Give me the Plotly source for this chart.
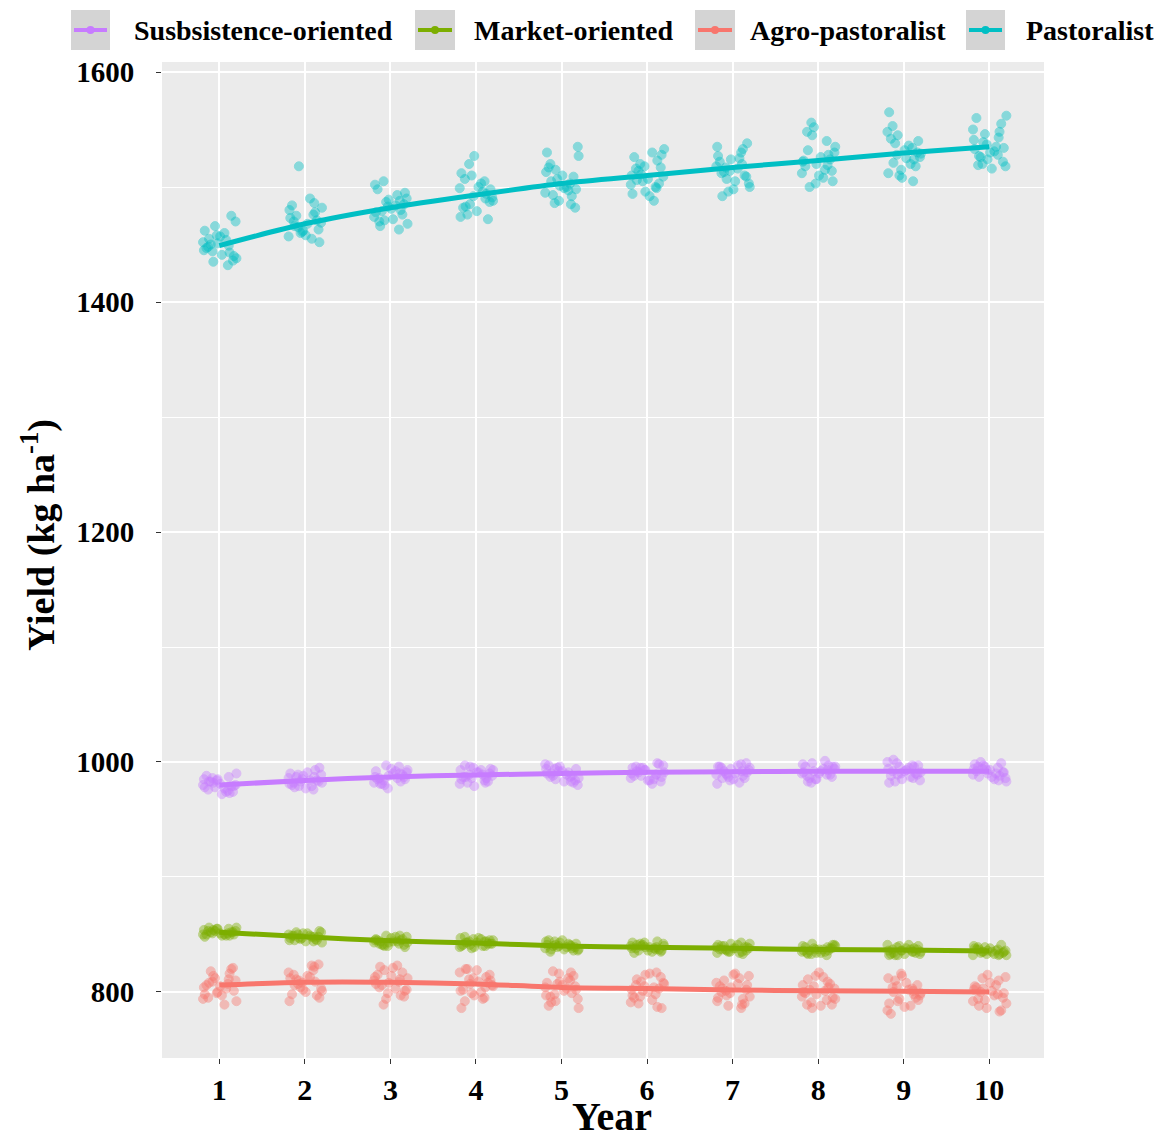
import plotly.graph_objects as go

# Years and group names
years = [1, 2, 3, 4, 5, 6, 7, 8, 9, 10]
groups = ["Agro-pastoralist", "Market-oriented", "Pastoralist", "Susbsistence-oriented"]
legend_order = ["Susbsistence-oriented", "Market-oriented", "Agro-pastoralist", "Pastoralist"]
colors = {"Agro-pastoralist": "#F8766D", "Market-oriented": "#7CAE00",
          "Pastoralist": "#00BFC4", "Susbsistence-oriented": "#C77CFF"}

# Smoothed trend per group
trend_subsistence = [980, 984, 987, 988.7, 990, 991, 991.5, 992, 992, 992]
trend_market = [852, 848, 844.5, 842.6, 840, 839, 838, 837, 836.5, 835.6]
trend_agro = [806, 808.5, 808.5, 807, 804, 803, 801.7, 801, 800.6, 800]
trend_pastoral = [1449, 1468, 1482, 1493, 1503, 1510, 1517, 1523, 1529.5, 1535]

# Horizontal jitter of the points around each year
jitter = [-0.15, 0.08, -0.02, 0.17, -0.19, 0.03, -0.08, 0.12, -0.12, 0.19, -0.05, 0.14,
          0.01, -0.17, 0.10, -0.10, 0.06, -0.13, 0.16, -0.03, 0.20, -0.07, 0.11, -0.18]

# Simulated yields per year (one list per year)
pts_subsistence = [
    [980, 975, 984, 988, 972, 978, 983, 990, 974, 986, 979, 977, 982, 985, 973, 981, 976, 987, 979, 983, 978, 974, 985, 980],
    [984, 979, 988, 993, 977, 982, 987, 995, 978, 990, 983, 981, 986, 989, 976, 985, 980, 991, 983, 987, 982, 979, 989, 984],
    [987, 982, 991, 996, 977, 985, 990, 997, 981, 993, 986, 984, 989, 992, 980, 988, 983, 994, 986, 990, 985, 981, 992, 987],
    [989, 983, 993, 996, 979, 986, 991, 997, 982, 994, 987, 985, 990, 993, 981, 988, 984, 995, 987, 991, 986, 982, 993, 989],
    [990, 984, 994, 998, 980, 987, 992, 997, 983, 995, 988, 986, 991, 994, 982, 989, 985, 996, 988, 992, 987, 983, 994, 990],
    [991, 985, 995, 998, 981, 988, 993, 999, 984, 996, 989, 987, 992, 995, 983, 990, 986, 997, 989, 993, 988, 984, 995, 991],
    [991, 986, 996, 999, 981, 989, 993, 998, 984, 996, 990, 987, 992, 995, 982, 990, 986, 997, 989, 994, 988, 985, 995, 992],
    [992, 986, 996, 1001, 982, 989, 994, 999, 985, 997, 990, 988, 993, 996, 983, 991, 987, 998, 990, 994, 989, 985, 996, 992],
    [992, 986, 997, 1002, 982, 989, 994, 1000, 984, 997, 990, 988, 993, 996, 983, 991, 987, 999, 990, 995, 989, 985, 996, 992],
    [992, 987, 996, 1000, 983, 990, 994, 999, 985, 997, 990, 988, 993, 996, 984, 991, 987, 998, 991, 994, 989, 986, 995, 993],
]
pts_market = [
    [852, 850, 854, 855, 849, 851, 853, 855, 850, 856, 848, 852, 854, 850, 853, 851, 855, 850, 849, 853, 852, 856, 849, 851],
    [848, 845, 850, 852, 844, 847, 849, 851, 846, 852, 843, 848, 850, 845, 849, 847, 851, 846, 844, 849, 848, 853, 845, 847],
    [844, 841, 846, 848, 840, 843, 845, 847, 842, 849, 839, 844, 846, 841, 845, 843, 848, 842, 840, 845, 844, 849, 841, 843],
    [843, 840, 845, 847, 839, 842, 844, 846, 841, 847, 838, 843, 845, 840, 844, 842, 846, 841, 839, 844, 843, 848, 840, 842],
    [840, 837, 842, 844, 836, 839, 841, 843, 838, 845, 835, 840, 842, 837, 841, 839, 844, 838, 836, 841, 840, 845, 837, 839],
    [839, 836, 841, 843, 835, 838, 840, 842, 837, 843, 834, 839, 841, 836, 840, 838, 842, 837, 835, 840, 839, 844, 836, 838],
    [838, 835, 840, 842, 834, 837, 839, 841, 836, 842, 833, 838, 840, 835, 839, 837, 841, 836, 834, 839, 838, 843, 835, 837],
    [837, 834, 839, 841, 833, 836, 838, 840, 835, 841, 832, 837, 839, 834, 838, 836, 840, 835, 833, 838, 837, 842, 834, 836],
    [836, 833, 838, 840, 832, 835, 837, 839, 834, 841, 832, 836, 838, 833, 837, 835, 840, 834, 832, 837, 836, 841, 833, 835],
    [836, 833, 838, 839, 832, 835, 837, 838, 834, 840, 832, 836, 837, 833, 837, 835, 839, 834, 832, 836, 835, 841, 833, 835],
]
pts_agro = [
    [806, 797, 812, 818, 792, 803, 809, 820, 789, 814, 800, 816, 805, 795, 811, 801, 808, 798, 821, 804, 794, 810, 807, 799],
    [809, 800, 815, 822, 795, 806, 812, 824, 792, 817, 803, 819, 808, 798, 814, 804, 811, 801, 823, 807, 797, 813, 810, 802],
    [809, 799, 815, 821, 794, 806, 812, 823, 789, 817, 803, 819, 808, 797, 814, 804, 811, 801, 822, 807, 796, 813, 810, 802],
    [807, 797, 813, 819, 792, 804, 810, 820, 786, 815, 801, 817, 806, 795, 812, 802, 809, 799, 820, 805, 794, 811, 808, 800],
    [804, 794, 810, 816, 788, 801, 807, 818, 786, 812, 798, 814, 803, 792, 809, 799, 806, 796, 817, 802, 791, 808, 805, 797],
    [803, 793, 809, 815, 787, 800, 806, 817, 786, 811, 797, 813, 802, 791, 808, 798, 805, 795, 816, 801, 790, 807, 804, 796],
    [802, 792, 808, 814, 786, 799, 805, 816, 788, 810, 796, 812, 801, 790, 807, 797, 804, 794, 815, 800, 789, 806, 803, 795],
    [801, 791, 807, 813, 786, 798, 804, 817, 789, 809, 795, 811, 800, 789, 806, 796, 803, 793, 814, 799, 788, 805, 802, 794],
    [800, 790, 806, 812, 784, 797, 803, 816, 781, 808, 794, 810, 799, 788, 805, 795, 802, 792, 814, 798, 787, 804, 801, 793],
    [800, 790, 806, 812, 784, 797, 803, 815, 783, 808, 794, 810, 799, 788, 805, 795, 802, 792, 813, 798, 786, 804, 801, 793],
]
pts_pastoral = [
    [1449, 1440, 1455, 1462, 1436, 1445, 1452, 1470, 1432, 1458, 1447, 1441, 1466, 1450, 1438, 1454, 1444, 1475, 1460, 1435, 1451, 1443, 1457, 1448],
    [1468, 1460, 1475, 1482, 1455, 1465, 1471, 1490, 1518, 1462, 1478, 1458, 1470, 1486, 1452, 1466, 1473, 1463, 1480, 1457, 1469, 1476, 1461, 1484],
    [1481, 1470, 1488, 1495, 1466, 1478, 1485, 1502, 1474, 1490, 1463, 1483, 1498, 1472, 1487, 1479, 1468, 1493, 1505, 1476, 1484, 1471, 1489, 1480],
    [1492, 1482, 1500, 1510, 1476, 1488, 1496, 1520, 1472, 1503, 1485, 1527, 1494, 1479, 1507, 1490, 1498, 1483, 1512, 1487, 1474, 1499, 1491, 1505],
    [1501, 1492, 1510, 1520, 1485, 1498, 1505, 1530, 1482, 1513, 1495, 1535, 1503, 1488, 1517, 1499, 1507, 1493, 1527, 1497, 1486, 1509, 1500, 1515],
    [1509, 1500, 1518, 1526, 1492, 1505, 1514, 1533, 1488, 1520, 1503, 1530, 1511, 1496, 1523, 1507, 1516, 1499, 1528, 1506, 1494, 1517, 1510, 1502],
    [1516, 1507, 1524, 1533, 1498, 1512, 1520, 1538, 1492, 1527, 1509, 1535, 1518, 1503, 1530, 1514, 1522, 1505, 1496, 1513, 1500, 1525, 1517, 1510],
    [1522, 1512, 1530, 1540, 1503, 1518, 1526, 1552, 1500, 1535, 1515, 1556, 1524, 1508, 1545, 1520, 1528, 1510, 1548, 1519, 1505, 1532, 1523, 1514],
    [1528, 1518, 1536, 1545, 1508, 1524, 1532, 1553, 1505, 1540, 1521, 1565, 1530, 1512, 1548, 1526, 1534, 1515, 1542, 1525, 1510, 1538, 1529, 1520],
    [1533, 1522, 1541, 1550, 1518, 1528, 1537, 1560, 1516, 1546, 1526, 1562, 1535, 1520, 1555, 1531, 1539, 1524, 1548, 1530, 1519, 1543, 1534, 1527],
]

points = {"Agro-pastoralist": pts_agro, "Market-oriented": pts_market,
          "Pastoralist": pts_pastoral, "Susbsistence-oriented": pts_subsistence}
trends = {"Agro-pastoralist": trend_agro, "Market-oriented": trend_market,
          "Pastoralist": trend_pastoral, "Susbsistence-oriented": trend_subsistence}

FONT = "Liberation Serif"
# page has an 8px body margin, so the figure is drawn 8px in from the corner
OFF = 8
W, H = 1162 - 2 * OFF, 1138 - 2 * OFF
L, R, T, B = 162, 1044, 62, 1058  # plot area in page pixels


def px(x):
    return (x - L) / (R - L)


def py(y):
    return (B - y) / (B - T)


fig = go.Figure()

# jittered points (offsets shuffled per year/group so clouds don't form columns)
n = len(jitter)
for k, g in enumerate(groups):
    xs, ys = [], []
    for i, yr in enumerate(years):
        for j, v in enumerate(points[g][i]):
            xs.append(yr + jitter[(5 * j + 7 * i + 11 * k) % n])
            ys.append(v)
    fig.add_trace(go.Scatter(
        x=xs, y=ys, mode="markers", showlegend=False, hoverinfo="skip",
        marker=dict(size=9, color=colors[g], opacity=0.42,
                    line=dict(color=colors[g], width=1))))

# smoothed lines
for g in groups:
    fig.add_trace(go.Scatter(
        x=years, y=trends[g], mode="lines", name=g, showlegend=False,
        line=dict(color=colors[g], width=5, shape="spline", smoothing=0.8)))

# legend drawn by hand (grey ggplot-style keys)
legend_keys = {"Susbsistence-oriented": (71, 110, 132),
               "Market-oriented": (415, 455, 472),
               "Agro-pastoralist": (695, 735, 748),
               "Pastoralist": (966, 1005, 1024)}
shapes = []
annotations = []
for g in legend_order:
    x0, x1, xt = legend_keys[g]
    shapes.append(dict(type="rect", xref="paper", yref="paper",
                       x0=px(x0), x1=px(x1), y0=py(50), y1=py(10),
                       fillcolor="#D4D4D4", line=dict(width=0), layer="above"))
    shapes.append(dict(type="line", xref="paper", yref="paper",
                       x0=px(x0 + 3), x1=px(x1 - 3), y0=py(30), y1=py(30),
                       line=dict(color=colors[g], width=4)))
    xc = (x0 + x1) / 2
    shapes.append(dict(type="circle", xref="paper", yref="paper",
                       x0=px(xc - 4), x1=px(xc + 4), y0=py(34), y1=py(26),
                       fillcolor=colors[g], line=dict(width=0)))
    annotations.append(dict(text=g, xref="paper", yref="paper", x=px(xt), y=py(30),
                            xanchor="left", yanchor="middle", showarrow=False,
                            font=dict(family=FONT, size=28, color="black", weight="bold")))

annotations.append(dict(text="Yield (kg ha<sup>-1</sup>)", xref="paper", yref="paper",
                        x=px(38), y=py(535), textangle=-90, showarrow=False,
                        xanchor="center", yanchor="middle",
                        font=dict(family=FONT, size=38, color="black", weight="bold")))
annotations.append(dict(text="Year", xref="paper", yref="paper",
                        x=px(612), y=py(1116), showarrow=False,
                        xanchor="center", yanchor="middle",
                        font=dict(family=FONT, size=40, color="black", weight="bold")))

fig.update_layout(
    width=W, height=H,
    margin=dict(l=L - OFF, r=W - (R - OFF), t=T - OFF, b=H - (B - OFF)),
    paper_bgcolor="white", plot_bgcolor="#EBEBEB",
    shapes=shapes, annotations=annotations,
    showlegend=False,
)
fig.update_xaxes(
    range=[0.33, 10.64], tick0=1, dtick=1, showgrid=True, gridcolor="white", gridwidth=2,
    zeroline=False, showline=False, ticks="outside", ticklen=5, tickcolor="#333333",
    tickfont=dict(family=FONT, size=30, color="black", weight="bold"),
    ticklabelstandoff=0,
)
fig.update_yaxes(
    range=[742.6, 1608.7], tick0=800, dtick=200, showgrid=True, gridcolor="white", gridwidth=2,
    zeroline=False, showline=False, ticks="outside", ticklen=5, tickcolor="#333333",
    tickfont=dict(family=FONT, size=29, color="black", weight="bold"),
    ticklabelstandoff=16,
    minor=dict(tick0=900, dtick=200, showgrid=True, gridcolor="white", gridwidth=1, ticks=""),
)

fig.write_html("out.html")
